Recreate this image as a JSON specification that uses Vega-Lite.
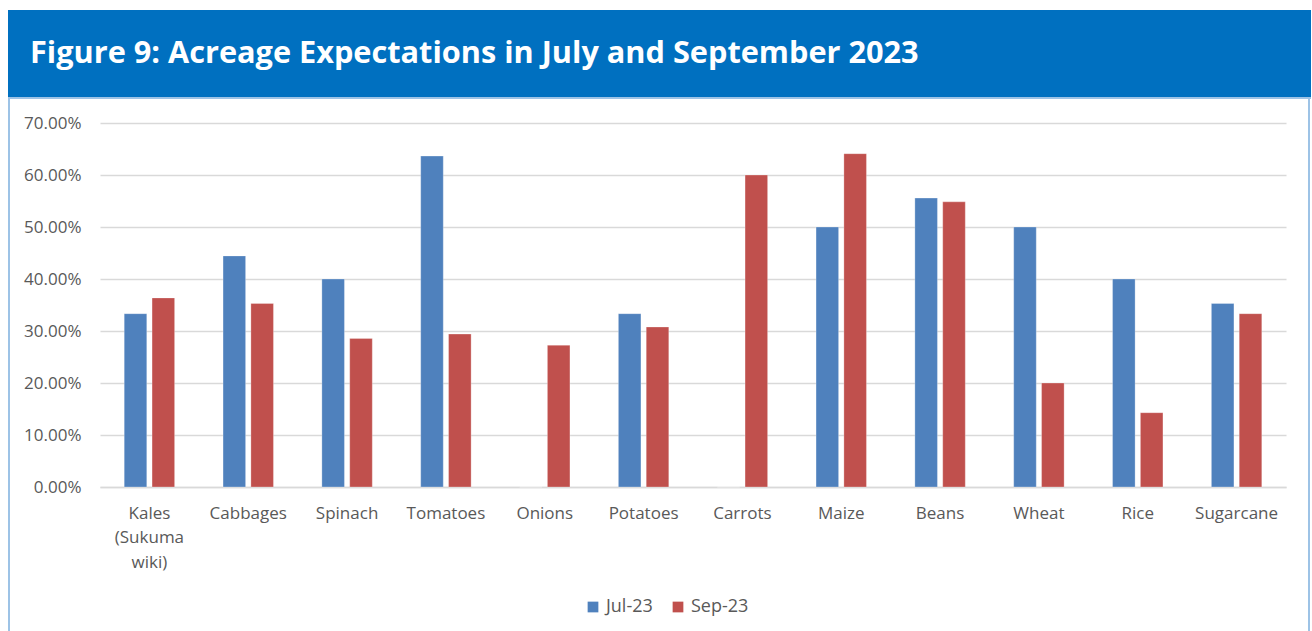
{
  "$schema": "https://vega.github.io/schema/vega-lite/v6.json",
  "padding": {"left": 8, "top": 10, "right": 0, "bottom": 0},
  "background": "white",
  "spacing": 0,
  "config": {
    "font": "Open Sans",
    "concat": {"spacing": 0},
    "view": {"stroke": null}
  },
  "datasets": {
    "acreage": [
      {"crop": "Kales (Sukuma wiki)", "month": "Jul-23", "value": 0.3333},
      {"crop": "Kales (Sukuma wiki)", "month": "Sep-23", "value": 0.3636},
      {"crop": "Cabbages", "month": "Jul-23", "value": 0.4444},
      {"crop": "Cabbages", "month": "Sep-23", "value": 0.3529},
      {"crop": "Spinach", "month": "Jul-23", "value": 0.4},
      {"crop": "Spinach", "month": "Sep-23", "value": 0.2857},
      {"crop": "Tomatoes", "month": "Jul-23", "value": 0.6364},
      {"crop": "Tomatoes", "month": "Sep-23", "value": 0.2941},
      {"crop": "Onions", "month": "Jul-23", "value": 0},
      {"crop": "Onions", "month": "Sep-23", "value": 0.2727},
      {"crop": "Potatoes", "month": "Jul-23", "value": 0.3333},
      {"crop": "Potatoes", "month": "Sep-23", "value": 0.3077},
      {"crop": "Carrots", "month": "Jul-23", "value": 0},
      {"crop": "Carrots", "month": "Sep-23", "value": 0.6},
      {"crop": "Maize", "month": "Jul-23", "value": 0.5},
      {"crop": "Maize", "month": "Sep-23", "value": 0.641},
      {"crop": "Beans", "month": "Jul-23", "value": 0.5556},
      {"crop": "Beans", "month": "Sep-23", "value": 0.5484},
      {"crop": "Wheat", "month": "Jul-23", "value": 0.5},
      {"crop": "Wheat", "month": "Sep-23", "value": 0.2},
      {"crop": "Rice", "month": "Jul-23", "value": 0.4},
      {"crop": "Rice", "month": "Sep-23", "value": 0.1429},
      {"crop": "Sugarcane", "month": "Jul-23", "value": 0.3529},
      {"crop": "Sugarcane", "month": "Sep-23", "value": 0.3333}
    ],
    "none": []
  },
  "vconcat": [
    {
      "width": 1303,
      "height": 87,
      "view": {"fill": "#0070C0", "stroke": null},
      "title": {
        "text": "Figure 9: Acreage Expectations in July and September 2023",
        "anchor": "start",
        "orient": "top",
        "frame": "group",
        "baseline": "alphabetic",
        "offset": -84,
        "dx": 22,
        "color": "white",
        "font": "Open Sans",
        "fontSize": 30.7,
        "fontWeight": "bold"
      },
      "data": {"name": "none"},
      "mark": {"type": "text", "text": ""}
    },
    {
      "width": 1303,
      "height": 2,
      "view": {"fill": "#9DC3E6", "stroke": null},
      "data": {"name": "none"},
      "mark": {"type": "text", "text": ""}
    },
    {
      "spacing": 0,
      "hconcat": [
        {
          "width": 2,
          "height": 532,
          "view": {"fill": "#9DC3E6", "stroke": null},
          "data": {"name": "none"},
          "mark": {"type": "text", "text": ""}
        },
        {
          "spacing": 0,
          "bounds": "flush",
          "vconcat": [
            {
              "width": 1186,
              "height": 24,
              "data": {"name": "none"},
              "mark": {"type": "text", "text": ""}
            },
            {
              "width": 1186,
              "height": 364,
              "data": {"name": "acreage"},
              "mark": {"type": "bar", "stroke": "#ffffff", "strokeOpacity": 0.35, "strokeWidth": 0.8},
              "encoding": {
                "x": {
                  "field": "crop",
                  "type": "nominal",
                  "sort": null,
                  "scale": {"paddingInner": 0.49, "paddingOuter": 0.245},
                  "axis": {
                    "title": null,
                    "labelAngle": 0,
                    "labelFont": "Open Sans",
                    "labelFontSize": 17,
                    "labelColor": "#595959",
                    "labelPadding": 18,
                    "labelLineHeight": 24.5,
                    "labelLimit": 200,
                    "ticks": false,
                    "domain": true,
                    "domainColor": "#D9D9D9",
                    "domainWidth": 1.5,
                    "labelExpr": "datum.value == 'Kales (Sukuma wiki)' ? ['Kales', '(Sukuma', 'wiki)'] : datum.value"
                  }
                },
                "xOffset": {
                  "field": "month",
                  "type": "nominal",
                  "sort": ["Jul-23", "Sep-23"],
                  "scale": {"paddingInner": 0.19}
                },
                "y": {
                  "field": "value",
                  "type": "quantitative",
                  "scale": {"domain": [0, 0.7], "nice": false},
                  "axis": {
                    "title": null,
                    "format": ".2%",
                    "values": [0, 0.1, 0.2, 0.3, 0.4, 0.5, 0.6, 0.7],
                    "grid": true,
                    "gridColor": "#D9D9D9",
                    "gridWidth": 1.5,
                    "domain": false,
                    "ticks": false,
                    "labelFont": "Open Sans",
                    "labelFontSize": 17,
                    "labelColor": "#595959",
                    "labelPadding": 19,
                    "minExtent": 90,
                    "maxExtent": 90
                  }
                },
                "color": {
                  "field": "month",
                  "type": "nominal",
                  "sort": ["Jul-23", "Sep-23"],
                  "scale": {"range": ["#4F81BD", "#C0504D"]},
                  "legend": {
                    "title": null,
                    "orient": "none",
                    "legendX": 576,
                    "legendY": 588,
                    "direction": "horizontal",
                    "symbolType": "square",
                    "symbolSize": 115,
                    "symbolStrokeWidth": 0,
                    "labelFont": "Open Sans",
                    "labelFontSize": 18,
                    "labelColor": "#595959",
                    "labelOffset": 4,
                    "columnPadding": 16
                  }
                }
              }
            }
          ]
        },
        {
          "width": 22,
          "height": 10,
          "data": {"name": "none"},
          "mark": {"type": "text", "text": ""}
        },
        {
          "width": 2,
          "height": 532,
          "view": {"fill": "#9DC3E6", "stroke": null},
          "data": {"name": "none"},
          "mark": {"type": "text", "text": ""}
        }
      ]
    }
  ]
}
